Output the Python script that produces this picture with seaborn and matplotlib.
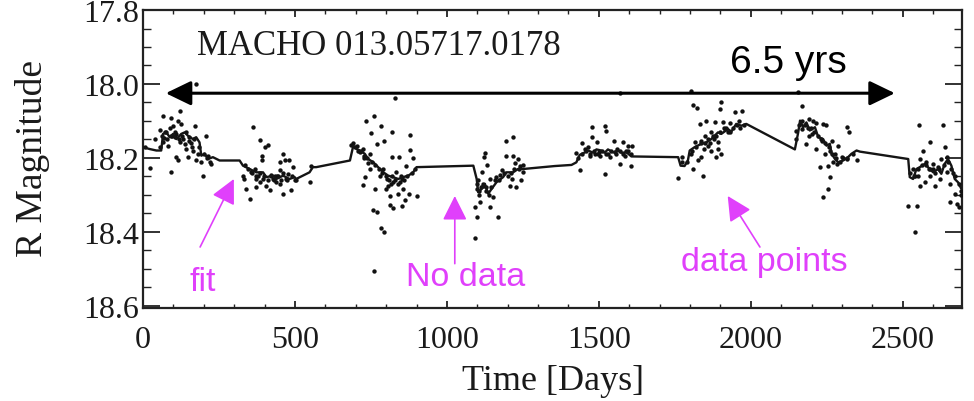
import matplotlib
matplotlib.use("Agg")
import matplotlib.pyplot as plt
import seaborn as sns
import pandas as pd
from matplotlib.patches import FancyArrowPatch
from matplotlib.ticker import MultipleLocator

# ---------------- data ----------------
fit_day = [0, 22, 44, 60, 66, 77, 88, 99, 110, 126, 137, 148, 164, 175, 186, 192, 203, 214, 230, 252, 274,
           318, 329, 351, 373, 395, 406, 428, 439, 461, 482, 499, 504, 548, 559, 570, 681,
           692, 703, 714, 730, 741, 758, 774, 791, 807, 823, 840, 856, 873, 889, 900,
           1087, 1098, 1103, 1114, 1125, 1136, 1147, 1163, 1185, 1196, 1218, 1234, 1251,
           1355, 1410, 1426, 1437, 1454, 1465, 1481, 1492, 1508, 1519, 1530, 1547, 1563, 1574, 1591, 1607,
           1761, 1769, 1782, 1793, 1799, 1815, 1837, 1854, 1870, 1892, 1903, 1925, 1936, 1952, 1969, 1985,
           2145, 2156, 2162, 2172, 2183, 2194, 2211, 2222, 2238, 2249, 2260, 2266, 2277, 2288, 2304, 2320,
           2331, 2348, 2359, 2518, 2523, 2534, 2545, 2556, 2573, 2583, 2600, 2616, 2627, 2638, 2649, 2660,
           2671, 2682, 2693]
fit_mag = [18.171, 18.176, 18.180, 18.180, 18.135, 18.131, 18.144, 18.135, 18.149, 18.135, 18.131, 18.140,
           18.149, 18.144, 18.158, 18.194, 18.189, 18.203, 18.198, 18.207, 18.207,
           18.207, 18.221, 18.230, 18.239, 18.239, 18.252, 18.248, 18.257, 18.248, 18.257, 18.252, 18.257,
           18.239, 18.225, 18.225, 18.207,
           18.167, 18.176, 18.180, 18.189, 18.203, 18.212, 18.225, 18.239, 18.248, 18.252, 18.257, 18.252,
           18.248, 18.239, 18.225,
           18.221, 18.257, 18.293, 18.284, 18.270, 18.297, 18.284, 18.266, 18.252, 18.239, 18.239, 18.230, 18.230,
           18.222, 18.219, 18.212, 18.192, 18.185, 18.180, 18.186, 18.177, 18.180, 18.186, 18.177, 18.185, 18.180,
           18.186, 18.185, 18.196,
           18.198, 18.221, 18.222, 18.207, 18.180, 18.171, 18.162, 18.158, 18.149, 18.131, 18.135, 18.122, 18.129,
           18.108, 18.113, 18.108,
           18.177, 18.131, 18.099, 18.117, 18.104, 18.126, 18.117, 18.144, 18.149, 18.167, 18.162, 18.189, 18.203,
           18.212, 18.207, 18.198,
           18.189, 18.180, 18.183, 18.203, 18.252, 18.257, 18.230, 18.225, 18.216, 18.225, 18.239, 18.230, 18.243,
           18.216, 18.203, 18.221, 18.257, 18.266, 18.284]

# scattered observations
obs_day = [175, 66, 121, 93, 115, 126, 99, 170, 77, 93, 104, 110, 132, 208, 82, 137, 153, 164, 142, 110, 115,
           148, 175, 181, 192, 214, 225, 93, 22, 197, 66, 121, 8, 40, 55, 70, 88, 150, 160,
           362, 386, 411, 400, 391, 392, 329, 334, 340, 351, 373, 367, 384, 378, 395, 406, 417, 433, 439,
           450, 461, 466, 450, 482, 493, 488, 461, 499, 471, 455, 548, 553, 685, 356, 373, 428, 477, 420, 445,
           829, 734, 761, 783, 749, 820, 878, 769, 794, 878, 889, 821, 843, 727, 747, 703, 725, 867, 730, 725,
           763, 799, 813, 840, 856, 876, 902, 862, 813, 823, 851, 756, 769, 783, 794, 760, 780, 802, 823, 791,
           834, 747, 851, 807, 715, 740, 815, 845,
           1125, 1122, 1133, 1114, 1103, 1098, 1108, 1092, 1100, 1141, 1169, 1094, 1152, 1163, 1180, 1193,
           1218, 1196, 1218, 1234, 1240, 1213, 1207, 1229, 1243, 1141, 1119, 1251, 1105, 1130, 1175, 1225,
           1569, 1476, 1519, 1522, 1476, 1495, 1443, 1550, 1580, 1596, 1609, 1426, 1454, 1503, 1536, 1569,
           1607, 1437, 1519, 1487, 1552, 1585, 1465, 1500, 1530, 1560, 1590, 1470,
           1802, 1810, 1824, 1903, 1900, 1947, 1971, 1854, 1881, 1908, 1930, 1832, 1914, 1870, 1837, 1815,
           1892, 1859, 1892, 1903, 1887, 1837, 1826, 1804, 1772, 1761, 1843, 1810, 1870, 1930, 1850, 1880,
           1920, 1960, 1845, 1865,
           2154, 2170, 2205, 2192, 2216, 2238, 2249, 2317, 2324, 2148, 2167, 2200, 2183, 2233, 2266, 2288,
           2216, 2260, 2277, 2299, 2315, 2348, 2255, 2282, 2227, 2260, 2255, 2236, 2190, 2245, 2270,
           2553, 2631, 2589, 2567, 2638, 2556, 2578, 2600, 2627, 2644, 2551, 2573, 2605, 2556, 2589, 2622,
           2655, 2540, 2518, 2547, 2540, 2655, 2677, 2685, 2671, 2644, 2600, 2534, 2690, 2665, 2585, 2615]
obs_mag = [18.000, 18.086, 18.072, 18.093, 18.099, 18.108, 18.113, 18.113, 18.131, 18.140, 18.144, 18.135,
           18.149, 18.140, 18.167, 18.162, 18.144, 18.180, 18.176, 18.198, 18.207, 18.198, 18.207, 18.189,
           18.212, 18.194, 18.216, 18.237, 18.228, 18.250, 18.158, 18.158, 18.170, 18.150, 18.125, 18.145,
           18.120, 18.155, 18.170,
           18.117, 18.151, 18.165, 18.171, 18.196, 18.207, 18.248, 18.257, 18.284, 18.311, 18.279, 18.230,
           18.266, 18.248, 18.257, 18.275, 18.288, 18.248, 18.266, 18.234, 18.189, 18.207, 18.212, 18.207,
           18.225, 18.288, 18.297, 18.261, 18.257, 18.261, 18.266, 18.222, 18.165, 18.239, 18.257, 18.257,
           18.243, 18.245, 18.250,
           18.038, 18.099, 18.088, 18.113, 18.132, 18.131, 18.138, 18.162, 18.155, 18.178, 18.200, 18.198,
           18.198, 18.194, 18.189, 18.167, 18.176, 18.221, 18.252, 18.273, 18.284, 18.284, 18.302, 18.297,
           18.284, 18.297, 18.302, 18.315, 18.327, 18.336, 18.331, 18.341, 18.347, 18.390, 18.401, 18.507,
           18.248, 18.257, 18.266, 18.230, 18.239, 18.230, 18.257, 18.275, 18.185, 18.215, 18.270, 18.265,
           18.186, 18.198, 18.219, 18.239, 18.261, 18.284, 18.320, 18.333, 18.360, 18.333, 18.360, 18.417,
           18.306, 18.252, 18.234, 18.155, 18.144, 18.194, 18.194, 18.203, 18.222, 18.257, 18.275, 18.279,
           18.261, 18.257, 18.275, 18.239, 18.300, 18.280, 18.245, 18.215,
           18.024, 18.117, 18.113, 18.126, 18.144, 18.156, 18.159, 18.153, 18.156, 18.167, 18.167, 18.186,
           18.176, 18.194, 18.198, 18.216, 18.222, 18.232, 18.243, 18.189, 18.185, 18.194, 18.171, 18.185,
           18.190, 18.175, 18.180, 18.195,
           18.018, 18.057, 18.066, 18.048, 18.068, 18.077, 18.072, 18.100, 18.103, 18.103, 18.105, 18.108,
           18.122, 18.131, 18.153, 18.158, 18.158, 18.167, 18.176, 18.189, 18.198, 18.198, 18.207, 18.189,
           18.198, 18.254, 18.250, 18.230, 18.180, 18.131, 18.140, 18.150, 18.120, 18.100, 18.175, 18.160,
           18.021, 18.059, 18.100, 18.095, 18.105, 18.108, 18.111, 18.117, 18.129, 18.126, 18.122, 18.135,
           18.162, 18.153, 18.153, 18.167, 18.176, 18.180, 18.189, 18.198, 18.203, 18.207, 18.222, 18.216,
           18.225, 18.252, 18.284, 18.306, 18.140, 18.190, 18.210,
           18.110, 18.110, 18.156, 18.180, 18.171, 18.203, 18.212, 18.216, 18.203, 18.198, 18.248, 18.266,
           18.275, 18.275, 18.248, 18.257, 18.270, 18.248, 18.329, 18.331, 18.401, 18.318, 18.324, 18.333,
           18.297, 18.239, 18.230, 18.230, 18.300, 18.240, 18.230, 18.225]

# observations packed tightly along the fit inside each season
dense_day = [55, 62, 72, 80, 95, 105, 118, 128, 140, 158, 168, 185, 200, 210, 220,
             335, 345, 360, 372, 385, 398, 410, 420, 430, 442, 452, 462, 475, 490, 505,
             690, 698, 708, 718, 728, 738, 752, 765, 778, 788, 798, 810, 818, 830, 838, 848, 860, 870, 885, 895,
             1100, 1106, 1112, 1118, 1128, 1138, 1145, 1158, 1172, 1188, 1200, 1210, 1222, 1238, 1250,
             1432, 1445, 1458, 1470, 1484, 1497, 1510, 1525, 1540, 1555, 1568, 1580, 1595, 1605,
             1775, 1790, 1805, 1820, 1835, 1848, 1860, 1875, 1885, 1898, 1912, 1925, 1940, 1955, 1965, 1978,
             2150, 2160, 2168, 2178, 2188, 2198, 2208, 2220, 2232, 2245, 2256, 2268, 2280, 2292, 2305, 2318, 2335,
             2525, 2538, 2550, 2562, 2575, 2590, 2605, 2620, 2635, 2648, 2660, 2672, 2685, 2692]
dense_mag = [18.17, 18.14, 18.13, 18.15, 18.14, 18.13, 18.15, 18.14, 18.13, 18.16, 18.15, 18.17, 18.19, 18.20, 18.21,
             18.22, 18.23, 18.24, 18.25, 18.24, 18.25, 18.26, 18.25, 18.26, 18.25, 18.27, 18.24, 18.26, 18.25, 18.26,
             18.16, 18.17, 18.18, 18.18, 18.20, 18.20, 18.21, 18.22, 18.23, 18.24, 18.25, 18.26, 18.25, 18.26, 18.27,
             18.25, 18.26, 18.25, 18.24, 18.23,
             18.27, 18.29, 18.28, 18.27, 18.29, 18.30, 18.28, 18.26, 18.26, 18.24, 18.25, 18.24, 18.23, 18.23, 18.22,
             18.20, 18.19, 18.18, 18.19, 18.18, 18.19, 18.18, 18.19, 18.18, 18.19, 18.18, 18.19, 18.18, 18.19,
             18.21, 18.21, 18.18, 18.17, 18.16, 18.16, 18.15, 18.14, 18.14, 18.13, 18.12, 18.13, 18.12, 18.11, 18.12,
             18.11,
             18.15, 18.11, 18.10, 18.11, 18.12, 18.12, 18.13, 18.14, 18.15, 18.16, 18.17, 18.19, 18.20, 18.21, 18.20,
             18.20, 18.19,
             18.24, 18.25, 18.23, 18.22, 18.22, 18.23, 18.24, 18.23, 18.22, 18.21, 18.23, 18.25, 18.27, 18.29]

x_ticks = [0, 500, 1000, 1500, 2000, 2500]
y_ticks = [17.8, 18.0, 18.2, 18.4, 18.6]
star_label = "MACHO 013.05717.0178"
span_label = "6.5 yrs"
span_days = [75, 2474]
span_mag = 18.025
notes = ["fit", "No data", "data points"]
note_text_xy = [(196, 18.535), (1063, 18.522), (2046, 18.481)]
note_tail_xy = [(188, 18.441), (1026, 18.486), (2030, 18.441)]
note_tip_xy = [(299, 18.257), (1026, 18.303), (1924, 18.303)]

# ---------------- plot ----------------
sns.set_theme(style="ticks")
plt.rcParams["font.family"] = ["Liberation Serif", "DejaVu Serif"]

fig = plt.figure(figsize=(9.74, 4.02), dpi=100)
ax = fig.add_axes([0.1468, 0.2313, 0.8409, 0.7413])

obs = pd.DataFrame({"day": obs_day + dense_day, "mag": obs_mag + dense_mag})
fit = pd.DataFrame({"day": fit_day, "mag": fit_mag})

sns.scatterplot(data=obs, x="day", y="mag", ax=ax, s=10, color="#111111", linewidth=0, zorder=3)
sns.lineplot(data=fit, x="day", y="mag", ax=ax, sort=False, estimator=None, color="#151515",
             linewidth=1.7, zorder=4)

ax.set_xlim(0, 2695)
ax.set_ylim(18.606, 17.8)
ax.set_xticks(x_ticks)
ax.set_yticks(y_ticks)
ax.set_yticklabels([f"{v:.1f}" for v in y_ticks])
ax.xaxis.set_minor_locator(MultipleLocator(100))
ax.yaxis.set_minor_locator(MultipleLocator(0.05))
ax.tick_params(axis="both", which="both", direction="in", top=True, right=True, colors="#222222",
               labelcolor="#1a1a1a", labelsize=23)
ax.tick_params(axis="y", which="major", length=12, width=1.3, pad=3)
ax.tick_params(axis="y", which="minor", length=6, width=1.0)
ax.tick_params(axis="x", which="major", length=5, width=1.3, pad=12)
ax.tick_params(axis="x", which="minor", length=3, width=1.0)
for sp in ax.spines.values():
    sp.set_linewidth(1.6)
    sp.set_color("#222222")

ax.set_xlabel("Time [Days]", fontsize=26, color="#1a1a1a", va="center")
ax.set_ylabel("R Magnitude", fontsize=27, color="#1a1a1a", va="center")
ax.xaxis.set_label_coords(0.5006, -0.242)
ax.yaxis.set_label_coords(-0.1355, 0.505)

ax.text(178, 17.897, star_label, fontsize=25, color="#1a1a1a", ha="left", va="center")
ax.text(2122, 17.94, span_label, fontsize=28, color="black", ha="center", va="center",
        family=["Liberation Sans", "DejaVu Sans"])

arr = FancyArrowPatch((span_days[0], span_mag), (span_days[1], span_mag),
                      arrowstyle="<|-|>,head_length=15.5,head_width=7.5", mutation_scale=1,
                      shrinkA=0, shrinkB=0, linewidth=2.2, color="black", zorder=5)
ax.add_patch(arr)

magenta = "#E040FB"
for txt, txy, tail, tip in zip(notes, note_text_xy, note_tail_xy, note_tip_xy):
    ax.text(txy[0], txy[1], txt, fontsize=24.5, color=magenta, ha="center", va="center",
            family=["Liberation Sans", "DejaVu Sans"])
    a = FancyArrowPatch(tail, tip, arrowstyle="-|>,head_length=15,head_width=7.5", mutation_scale=1,
                        shrinkA=0, shrinkB=0, linewidth=1.2, color=magenta, zorder=5)
    ax.add_patch(a)

fig.savefig("out.png", dpi=100)
